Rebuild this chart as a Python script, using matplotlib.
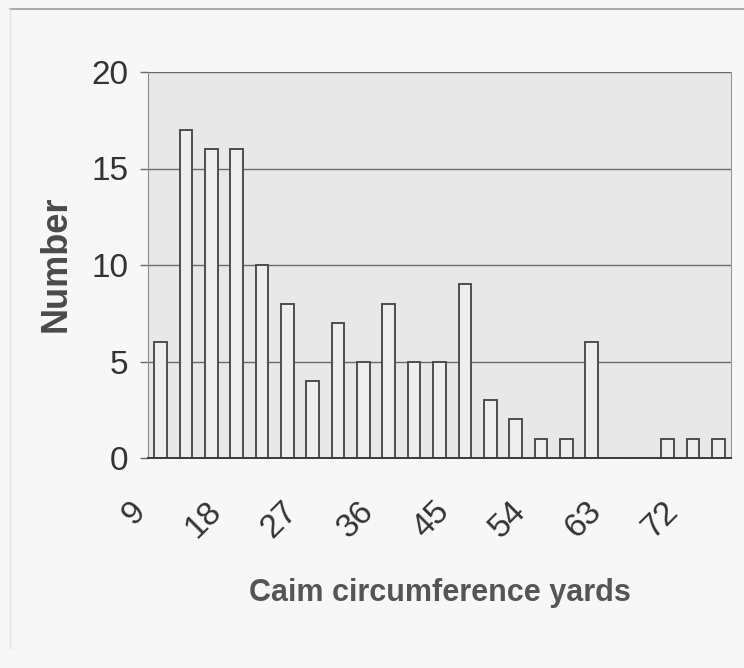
import matplotlib
matplotlib.use("Agg")
import matplotlib.pyplot as plt
import matplotlib.transforms as mtransforms
import numpy as np
from matplotlib.lines import Line2D

# cairn circumference (yards), step of 3
sizes = [9, 12, 15, 18, 21, 24, 27, 30, 33, 36, 39, 42, 45, 48, 51, 54, 57, 60,
         63, 66, 69, 72, 75]
counts = [6, 17, 16, 16, 10, 8, 4, 7, 5, 8, 5, 5, 9, 3, 2, 1, 1, 6,
          0, 0, 1, 1, 1]
xtick_labels = ["9", "18", "27", "36", "45", "54", "63", "72"]
yticks = [0, 5, 10, 15, 20]

plt.rcParams["font.family"] = ["Liberation Sans", "DejaVu Sans"]

fig = plt.figure(figsize=(7.44, 6.68), dpi=100, facecolor="#f7f7f7")
ax = fig.add_axes([148 / 744, 1 - 458 / 668, (731 - 148) / 744, (458 - 72) / 668])
ax.set_facecolor("#e8e8e8")

x = np.arange(len(sizes))
ax.bar(x, counts, width=0.5, color="#eeeeee", edgecolor="#4d4d4d",
       linewidth=1.4, zorder=3)

ax.set_xlim(-0.5, len(sizes) - 0.5)
ax.set_ylim(0, 20)
ax.set_yticks(yticks)
ax.yaxis.grid(True, color="#6a6a6a", linewidth=1.0, zorder=1)
ax.tick_params(axis="y", length=6, width=1, color="#6a6a6a", pad=8,
               labelsize=24, labelcolor="#333333")

tick_pos = [sizes.index(int(t)) for t in xtick_labels]
ax.set_xticks(tick_pos)
ax.set_xticklabels(xtick_labels, rotation=45, ha="right", va="center",
                   rotation_mode="anchor", fontsize=24, color="#333333")
ax.tick_params(axis="x", length=0, pad=35)
shift = mtransforms.ScaledTranslation(-20 / 100, 0, fig.dpi_scale_trans)
for lab in ax.get_xticklabels():
    lab.set_transform(lab.get_transform() + shift)

ax.spines["top"].set_visible(False)
ax.spines["left"].set_color("#8a8a8a")
ax.spines["right"].set_color("#9a9a9a")
ax.spines["bottom"].set_color("#3a3a3a")
ax.spines["bottom"].set_linewidth(1.4)
ax.spines["bottom"].set_zorder(4)

fig.text(56 / 744, 1 - 264 / 668, "Number", rotation=90, ha="center",
         va="center", fontsize=26, fontweight="bold", color="#4a4a4a")
fig.text(440 / 744, 1 - 593 / 668, "Caim circumference yards", ha="center",
         va="center", fontsize=22, fontweight="bold", color="#555555")

# scanned page frame
fig.add_artist(Line2D([10 / 744, 1], [1 - 9 / 668, 1 - 9 / 668],
                      transform=fig.transFigure, color="#9a9a9a", linewidth=1.2))
fig.add_artist(Line2D([10 / 744, 10 / 744], [1 - 9 / 668, 0.03],
                      transform=fig.transFigure, color="#e2e2e2", linewidth=1.0))

plt.savefig("out.png", dpi=100, facecolor=fig.get_facecolor())
